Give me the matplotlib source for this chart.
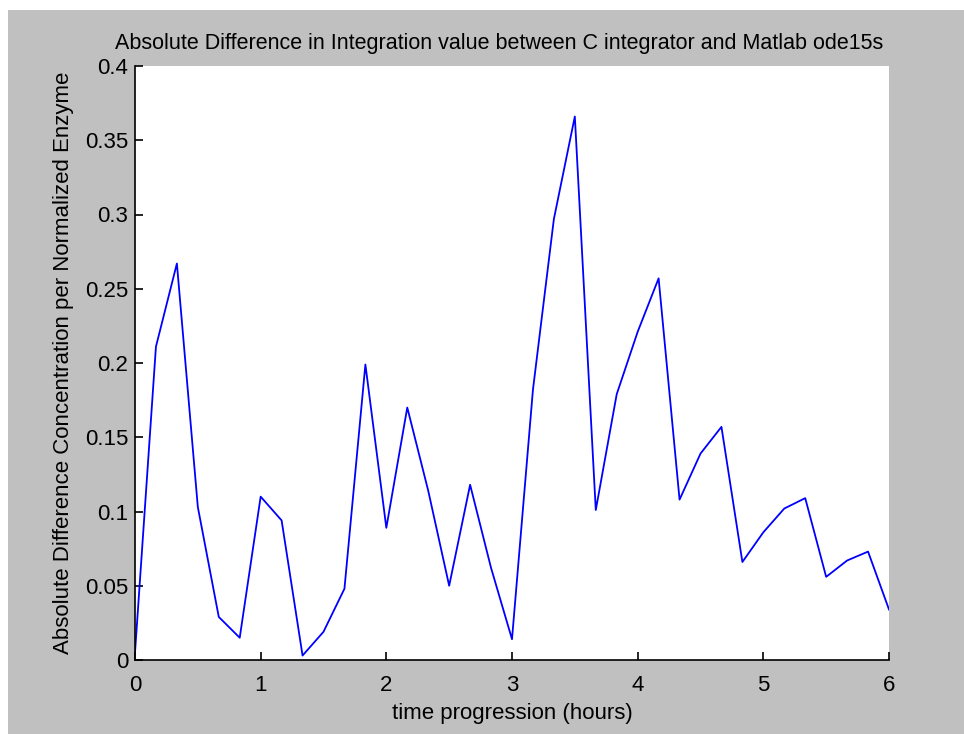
import numpy as np
import matplotlib
matplotlib.use('Agg')
import matplotlib.pyplot as plt
from matplotlib.patches import Rectangle

plt.rcParams['font.family'] = ['Liberation Sans Narrow', 'Liberation Sans', 'DejaVu Sans']

# Sample times every 10 minutes over 6 hours
hours = [0, 1/6, 2/6, 3/6, 4/6, 5/6, 1, 7/6, 8/6, 9/6, 10/6, 11/6,
         2, 13/6, 14/6, 15/6, 16/6, 17/6, 3, 19/6, 20/6, 21/6, 22/6, 23/6,
         4, 25/6, 26/6, 27/6, 28/6, 29/6, 5, 31/6, 32/6, 33/6, 34/6, 35/6, 6]
abs_diff = [0.005, 0.211, 0.267, 0.103, 0.029, 0.015, 0.110, 0.094, 0.003, 0.019, 0.048, 0.199,
            0.089, 0.170, 0.114, 0.050, 0.118, 0.062, 0.014, 0.182, 0.297, 0.366, 0.101, 0.179,
            0.221, 0.257, 0.108, 0.139, 0.157, 0.066, 0.086, 0.102, 0.109, 0.056, 0.067, 0.073, 0.034]

yticks = [0, 0.05, 0.1, 0.15, 0.2, 0.25, 0.3, 0.35, 0.4]
yticklabels = ['0', '0.05', '0.1', '0.15', '0.2', '0.25', '0.3', '0.35', '0.4']
xticks = [0, 1, 2, 3, 4, 5, 6]

W, H = 964, 734
fig = plt.figure(figsize=(W / 100, H / 100), dpi=100, facecolor='white')
# grey window background, with a thin white strip on the top and left
bg = Rectangle((8 / W, 0), 1 - 8 / W, (H - 10) / H,
               transform=fig.transFigure, facecolor='#c0c0c0', edgecolor='none')
bg.set_zorder(-10)
fig.add_artist(bg)

ax = fig.add_axes([135 / W, (H - 660) / H, (889 - 135) / W, (660 - 66) / H])
ax.set_zorder(1)
ax.set_facecolor('white')
ax.plot(hours, abs_diff, color='#0000ff', linewidth=1.3)

ax.set_xlim(0, 6)
ax.set_ylim(0, 0.4)
ax.set_xticks(xticks)
ax.set_yticks(yticks)
ax.set_yticklabels(yticklabels)
ax.tick_params(direction='in', length=6, width=1.2, labelsize=16, colors='black')
ax.tick_params(axis='x', pad=11)
ax.tick_params(axis='y', pad=5)

for side in ['top', 'right']:
    ax.spines[side].set_visible(False)
for side in ['left', 'bottom']:
    ax.spines[side].set_linewidth(1.2)

ax.set_title('Absolute Difference in Integration value between C integrator and Matlab ode15s',
             fontsize=15.5, pad=12, x=0.483)
ax.set_xlabel('time progression (hours)', fontsize=16, labelpad=5)
ax.set_ylabel('Absolute Difference Concentration per Normalized Enzyme', fontsize=16, labelpad=8)

fig.savefig('out.png', dpi=100)
